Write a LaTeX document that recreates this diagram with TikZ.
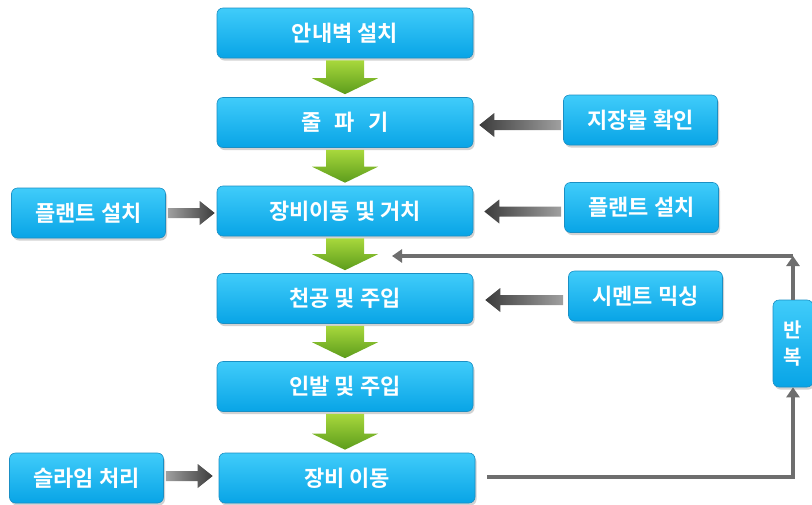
\documentclass[tikz,border=0pt]{standalone}
\usepackage{fontspec}
\setmainfont{Noto Sans CJK KR}[BoldFont=Noto Sans CJK KR Bold]
\usetikzlibrary{calc,shadows,arrows.meta}
\definecolor{boxtop}{HTML}{40CCFA}
\definecolor{boxbot}{HTML}{08A4E6}
\definecolor{boxedge}{HTML}{1A8FC4}
\definecolor{gdark}{HTML}{3C3C3C}
\definecolor{glight}{HTML}{A0A0A0}
\definecolor{grtop}{HTML}{A8D83C}
\definecolor{grbot}{HTML}{5C9C1C}
\definecolor{loopc}{HTML}{6E6E6E}
\tikzset{
  stepbox/.style={draw=boxedge, line width=0.6pt, rounded corners=6pt,
    top color=boxtop, bottom color=boxbot, text=white,
    font=\bfseries\fontsize{22}{24}\selectfont, inner sep=0pt,
    drop shadow={opacity=0.35, shadow xshift=1.5pt, shadow yshift=-2.5pt}},
  mainbox/.style={stepbox, minimum width=256pt, minimum height=50pt},
  sidebox/.style={stepbox, minimum width=154pt, minimum height=50pt},
  loopline/.style={draw=loopc, line width=4.5pt, -{Triangle[width=13pt,length=10pt]}},
}
\newcommand\garrowL[2]{%
  \shade[left color=gdark, right color=glight]
    let \p1=(#1), \p2=(#2) in
    (\x1,\y1+5pt) -- (\x2+15pt,\y1+5pt) -- (\x2+15pt,\y1+12pt) -- (\x2,\y1)
    -- (\x2+15pt,\y1-12pt) -- (\x2+15pt,\y1-5pt) -- (\x1,\y1-5pt) -- cycle;}
\newcommand\garrowR[2]{%
  \shade[left color=glight, right color=gdark]
    let \p1=(#1), \p2=(#2) in
    (\x1,\y1+5pt) -- (\x2-15pt,\y1+5pt) -- (\x2-15pt,\y1+12pt) -- (\x2,\y1)
    -- (\x2-15pt,\y1-12pt) -- (\x2-15pt,\y1-5pt) -- (\x1,\y1-5pt) -- cycle;}
\newcommand\varrow[2]{%
  \shade[top color=grtop, bottom color=grbot]
    let \p1=(#1), \p2=(#2) in
    (\x1-19pt,\y1-2pt) -- (\x1+19pt,\y1-2pt) -- (\x1+19pt,\y2+19pt) -- (\x1+33pt,\y2+19pt)
    -- (\x1,\y2+3pt) -- (\x1-33pt,\y2+19pt) -- (\x1-19pt,\y2+19pt) -- cycle;}
\begin{document}
\begin{tikzpicture}[x=1pt,y=-1pt]
\useasboundingbox (0,0) rectangle (812,504);
\fill[white] (0,0) rectangle (812,504);
% main column
\node[mainbox] (b1) at (345,33) {안내벽 설치};
\node[mainbox] (b2) at (345,122.5) {줄\hspace{13pt}파\hspace{13pt}기};
\node[mainbox] (b3) at (345,211) {장비이동 및 거치};
\node[mainbox] (b4) at (345,298.5) {천공 및 주입};
\node[mainbox] (b5) at (345,386.5) {인발 및 주입};
\node[mainbox] (b6) at (347,478) {장비 이동};
% side boxes
\node[sidebox] (r1) at (640.5,120) {지장물 확인};
\node[sidebox] (r2) at (641.5,207.5) {플랜트 설치};
\node[sidebox] (r3) at (645.5,296) {시멘트 믹싱};
\node[sidebox] (l1) at (88.5,213) {플랜트 설치};
\node[sidebox] (l2) at (86.5,478) {슬라임 처리};
\node[stepbox, minimum width=40pt, minimum height=87pt, align=center,
      font=\bfseries\fontsize{20}{27}\selectfont] (rep) at (793,343.5) {반\\복};
% green arrows
\varrow{b1.south}{b2.north}
\varrow{b2.south}{b3.north}
\varrow{b3.south}{b4.north}
\varrow{b4.south}{b5.north}
\varrow{b5.south}{b6.north}
% gray arrows
\garrowL{$(r1.west)+(-2,5)$}{$(b2.east)+(6,0)$}
\garrowL{$(r2.west)+(-3,4)$}{$(b3.east)+(11,0)$}
\garrowL{$(r3.west)+(-5,4)$}{$(b4.east)+(12,0)$}
\garrowR{$(l1.east)+(2,0)$}{$(b3.west)+(-2,0)$}
\garrowR{$(l2.east)+(2,-2)$}{$(b6.west)+(-6,0)$}
% loop
\coordinate (corner) at (793,256);
\coordinate (tip) at (392,256);
\draw[loopline] ($(b6.east)+(12,-1)$) -| (rep.south);
\draw[loopline] (rep.north) -- (corner);
\draw[loopline] (corner) -- (tip);
\end{tikzpicture}
\end{document}
